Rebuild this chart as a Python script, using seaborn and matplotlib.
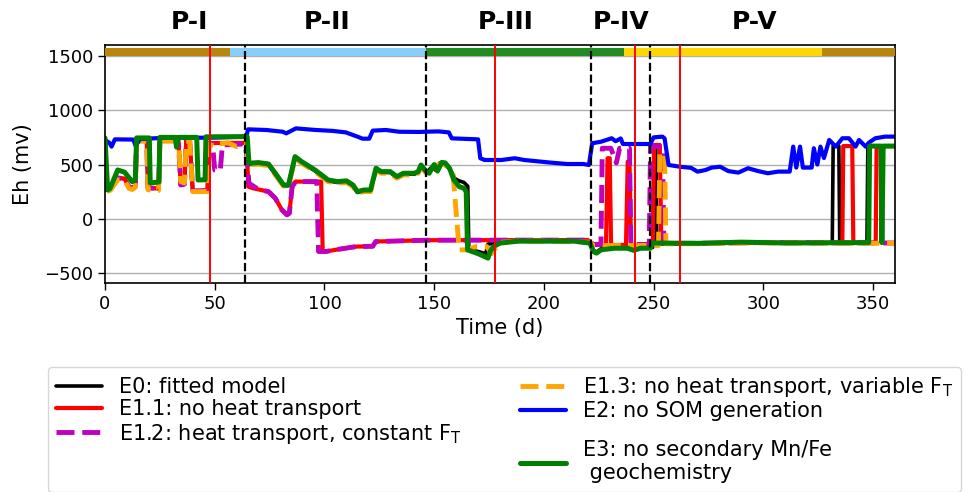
import matplotlib
matplotlib.use("Agg")
import matplotlib.pyplot as plt
from matplotlib.lines import Line2D
import seaborn as sns
import pandas as pd

# ---------------- data ----------------
t_E0 = [0, 0.8, 2.5, 5.8, 8.9, 11, 12.4, 13.8, 14.4, 19, 19.6, 24.4, 25, 33.5, 34.5, 36.2, 37, 38.6, 40, 46.7, 47.4,
        64.5, 65.3, 70, 74.5, 77.6, 81.4, 83.6, 86.6, 89.6, 95.7, 101.7, 106, 110, 113, 115, 118, 121, 123.5, 125.8,
        130, 133, 136, 141, 142.7, 144, 146.4, 149.4, 150.5, 152.5, 154, 157, 159.5, 161.4, 163.6, 165.3, 165.8,
        170, 173.5, 174.5, 177, 180, 188, 204, 214, 221, 222.5, 224, 226, 232, 238, 241, 244, 249.6, 250.2, 251.0,
        251.5, 270, 290, 310, 331.4, 331.8, 334.4, 334.8, 347.2, 347.6, 360]
eh_E0 = [720, 266, 280, 377, 370, 294, 285, 300, 720, 720, 285, 280, 720, 720, 312, 320, 720, 720, 257, 260, 698,
         700, 504, 510, 497, 412, 305, 305, 565, 519, 442, 350, 335, 342, 304, 243, 258, 258, 458, 427,
         427, 381, 412, 412, 427, 488, 427, 486, 450, 515, 515, 460, 370, 350, 335, 300, -285,
         -300, -320, -232, -225, -215, -205, -205, -205, -223, -290, -305, -275, -260, -260, -280, -262, -262, 640, 640,
         -225, -225, -214, -222, -220, 670, 670, -220, -220, 670, 670]

t_E11 = [0, 0.8, 2.5, 5.8, 8.9, 11, 12.4, 13.8, 14.4, 19, 19.6, 24.4, 25, 33.5, 34.5, 36.2, 37, 38.6, 40, 46.7, 47.4,
         64.5, 65.3, 67.4, 74.5, 77.6, 80.6, 82.9, 84, 85.3, 86.8, 98.5, 99.2, 100.7, 106.7, 114.4, 122, 123.4, 134,
         147, 220, 222.5, 228.3, 229, 230, 230.6, 237.4, 238.2, 239, 239.7, 249.6, 250.2, 252.8, 253.5, 270, 300,
         336, 336.4, 340.5, 341, 351.2, 351.6, 360]
eh_E11 = [720, 266, 280, 377, 370, 294, 285, 300, 720, 720, 285, 280, 720, 720, 312, 320, 720, 720, 257, 260, 698,
          700, 297, 282, 251, 190, 83, 37, 52, 297, 343, 343, -300, -300, -279, -255, -252, -208, -203,
          -196, -195, -240, -240, 558, 558, -240, -240, 527, 527, -240, -240, 680, 680, -230, -225, -218,
          -220, 670, 670, -220, -220, 670, 670]

t_E12 = [0, 0.8, 2.5, 5.8, 8.9, 11, 12.4, 13.8, 14.4, 19, 19.6, 24.4, 25, 33.5, 34.5, 36.2, 37, 38.6, 40, 46.7, 47.4,
         49, 50, 52.5, 53.5, 63.8, 64.5, 65.6, 70, 74.5, 77.6, 80.6, 82.9, 84, 85.3, 86.8, 96.5, 97.3, 100.7, 106.7,
         114.4, 122, 123.4, 134, 147, 220, 222.5, 226, 226.6, 230.5, 233, 234.5, 239, 239.6, 248, 248.6, 254,
         254.7, 270, 300, 330, 360]
eh_E12 = [720, 266, 280, 377, 370, 294, 285, 300, 720, 720, 285, 280, 720, 720, 312, 320, 720, 720, 257, 260, 698,
          690, 450, 440, 680, 690, 600, 328, 270, 251, 190, 83, 37, 52, 297, 343, 343, -300, -300, -279,
          -255, -252, -208, -203, -196, -195, -235, -235, 650, 650, 515, 650, 650, -235, -235, 665, 665,
          -225, -225, -218, -220, -222]

t_E13 = [0, 0.8, 2.5, 5.8, 8.9, 11, 12.4, 13.8, 14.4, 19, 19.6, 24.4, 25, 33.5, 34.5, 36.2, 37, 38.6, 40, 46.7, 47.4,
         50, 52, 56, 60, 64.5, 65.3, 70, 74.5, 77.6, 81.4, 83.6, 86.6, 89.6, 95.7, 101.7, 106, 110, 113, 115, 118,
         121, 123.5, 125.8, 130, 133, 136, 141, 142.7, 144, 146.4, 149.4, 152.5, 154, 157, 158.5, 161.4, 165,
         169, 174, 176, 180, 188, 204, 221, 222.5, 240, 252.2, 252.8, 255, 255.6, 270, 300, 330, 360]
eh_E13 = [720, 250, 265, 360, 355, 280, 270, 290, 715, 715, 268, 262, 715, 715, 343, 330, 715, 715, 250, 252, 690,
          665, 690, 700, 665, 690, 498, 503, 490, 405, 300, 298, 558, 512, 435, 343, 328, 335, 297, 236, 251,
          251, 451, 420, 420, 374, 405, 405, 420, 481, 420, 478, 505, 505, 470, 440, -285, -285,
          -255, -255, -320, -215, -205, -205, -215, -245, -245, -245, 600, 600, -230, -228, -220, -224, -225]

t_E2 = [0, 2, 3, 4.5, 12.9, 14, 15.9, 28, 48, 64.4, 65.2, 73.5, 81, 82.6, 87, 96, 103.6, 109.7, 115, 117.4,
        120.4, 122, 128, 134, 143, 147.7, 152, 156.7, 158, 170, 171, 173, 180.7, 186.7, 191, 203, 210.6, 218,
        220.5, 222, 226, 230.9, 232.7, 235, 236, 248.5, 250, 254, 255, 256.8, 262, 267, 270, 273.5, 276.5,
        280.3, 284, 288.6, 293, 297.6, 302, 306.8, 312, 313.6, 315, 316.7, 318, 320.5, 322, 323, 324.6, 326,
        327.6, 330, 333, 336, 339, 342, 343.6, 346.6, 348, 351, 355.5, 360]
eh_E2 = [726, 700, 665, 732, 730, 670, 735, 747, 747, 757, 824, 818, 802, 787, 833, 818, 810, 796, 757, 738,
         738, 812, 818, 802, 800, 803, 805, 796, 741, 732, 558, 542, 542, 558, 542, 518, 505, 505,
         496, 696, 710, 742, 715, 740, 689, 689, 750, 757, 740, 496, 480, 470, 435, 449, 472,
         480, 440, 426, 466, 440, 420, 435, 435, 665, 472, 665, 472, 472, 472, 650, 500, 665,
         560, 726, 665, 742, 742, 665, 726, 665, 700, 742, 757, 757]

t_E3 = [0, 1.2, 2.3, 5.8, 8.9, 12.4, 13.8, 14.4, 20.2, 20.6, 24.6, 25, 32, 32.6, 33.4, 41.8, 42.4, 45.6, 46,
        64.8, 65.6, 70, 74.5, 77.6, 81.4, 83.6, 86.6, 89.6, 95.7, 101.7, 106, 110, 113, 115, 118, 121, 123.5,
        125.8, 130, 133, 136, 141, 142.7, 144, 146.4, 147.7, 150, 151.5, 153.5, 155, 157, 159, 161.4, 163.6,
        164.6, 165.2, 170, 174.5, 175.5, 177, 180, 188, 204, 214, 221, 222.5, 224, 226, 232, 238, 241, 244,
        248.5, 249.5, 270, 290, 310, 330, 348, 348.4, 353.6, 354.0, 354.6, 360]
eh_E3 = [744, 266, 280, 450, 430, 343, 360, 745, 745, 330, 340, 750, 750, 660, 750, 750, 358, 360, 755,
         757, 512, 518, 505, 420, 312, 312, 573, 527, 450, 358, 343, 350, 312, 251, 266, 266, 466,
         435, 435, 389, 420, 420, 435, 496, 435, 420, 500, 440, 520, 515, 466, 358, 297, 282,
         250, -285, -320, -361, -300, -255, -223, -205, -205, -205, -223, -300, -315, -285, -270, -270, -290, -270,
         -270, -222, -225, -214, -222, -220, -218, 670, 670, -218, 670, 670]

labels = ["E0: fitted model",
          "E1.1: no heat transport",
          "E1.2: heat transport, constant F$_\\mathrm{T}$",
          "E1.3: no heat transport, variable F$_\\mathrm{T}$",
          "E2: no SOM generation",
          "E3: no secondary Mn/Fe\n geochemistry"]
times = [t_E0, t_E11, t_E12, t_E13, t_E2, t_E3]
values = [eh_E0, eh_E11, eh_E12, eh_E13, eh_E2, eh_E3]
colors = ["black", "#ff0000", "#bf00bf", "#ffa500", "#0000ff", "#008000"]
styles = ["-", "-", "--", "--", "-", "-"]
widths = [2.6, 3.0, 3.5, 3.5, 3.0, 3.6]

red_lines = [48, 177.5, 241.3, 262.2]
phase_bounds = [64, 146.5, 221.3, 248.3]
phase_labels = ["P-I", "P-II", "P-III", "P-IV", "P-V"]
phase_label_x = [38.6, 101, 182.7, 235, 296]
band_start = [0, 57, 146.5, 236.7, 326.5]
band_end = [57, 146.5, 236.7, 326.5, 360]
band_colors = ["#b8860b", "#87cefa", "#228b22", "#ffd700", "#b8860b"]
y_ticks = [-500, 0, 500, 1000, 1500]
x_ticks = [0, 50, 100, 150, 200, 250, 300, 350]

# ---------------- plot ----------------
sns.set_theme(style="ticks")
plt.rcParams["font.family"] = ["DejaVu Sans"]
plt.rcParams["text.color"] = "black"
plt.rcParams["axes.labelcolor"] = "black"
plt.rcParams["xtick.color"] = "black"
plt.rcParams["ytick.color"] = "black"

fig = plt.figure(figsize=(9.65, 4.92), dpi=100)
ax = fig.add_axes([0.1088, 0.4248, 0.8187, 0.4837])

handles = []
for label, t, eh, col, ls, lw in zip(labels, times, values, colors, styles, widths):
    df = pd.DataFrame({"t": t, "eh": eh})
    sns.lineplot(data=df, x="t", y="eh", ax=ax, color=col, linestyle=ls,
                 linewidth=lw, sort=False, estimator=None)
    handles.append(ax.lines[-1])

ax.hlines([1535] * len(band_start), band_start, band_end, colors=band_colors, linewidth=5.8, zorder=4)
for xv in phase_bounds:
    ax.axvline(xv, color="black", linestyle="--", linewidth=1.6, zorder=6)
for xv in red_lines:
    ax.axvline(xv, color="red", linewidth=1.4, zorder=6)

for lab, xl in zip(phase_labels, phase_label_x):
    ax.text(xl, 1.097, lab, transform=ax.get_xaxis_transform(), ha="center", va="center",
            fontsize=18, fontweight="bold", clip_on=False)

ax.set_xlim(0, 360)
ax.set_ylim(-590, 1600)
ax.set_xticks(x_ticks)
ax.set_yticks(y_ticks)
ax.yaxis.grid(True, color="#b0b0b0", linewidth=1.0)
ax.xaxis.grid(False)
ax.tick_params(axis="both", labelsize=13, length=5, width=1.0, color="black")
for sp in ax.spines.values():
    sp.set_color("black")
    sp.set_linewidth(1.2)
ax.set_xlabel("Time (d)", fontsize=15)
ax.set_ylabel("Eh (mv)", fontsize=15, labelpad=8)
if ax.get_legend() is not None:
    ax.get_legend().remove()

# legend: two columns, with an invisible spacer so that E3 sits lower as in the original
spacer1 = Line2D([], [], linestyle="none")
spacer2 = Line2D([], [], linestyle="none")
leg_handles = [handles[0], handles[1], handles[2], spacer1, handles[3], handles[4], spacer2, handles[5]]
leg_labels = [labels[0], labels[1], labels[2], "", labels[3], labels[4], "", labels[5]]
leg = fig.legend(leg_handles, leg_labels, loc="upper left", bbox_to_anchor=(0.0497, 0.254), ncol=2,
                 fontsize=15, frameon=True, handlelength=2.2, columnspacing=2.8, labelspacing=0.1,
                 borderaxespad=0.0)
texts = leg.get_texts()
texts[3].set_fontsize(1)
texts[6].set_fontsize(1)

fig.savefig("out.png", dpi=100)
